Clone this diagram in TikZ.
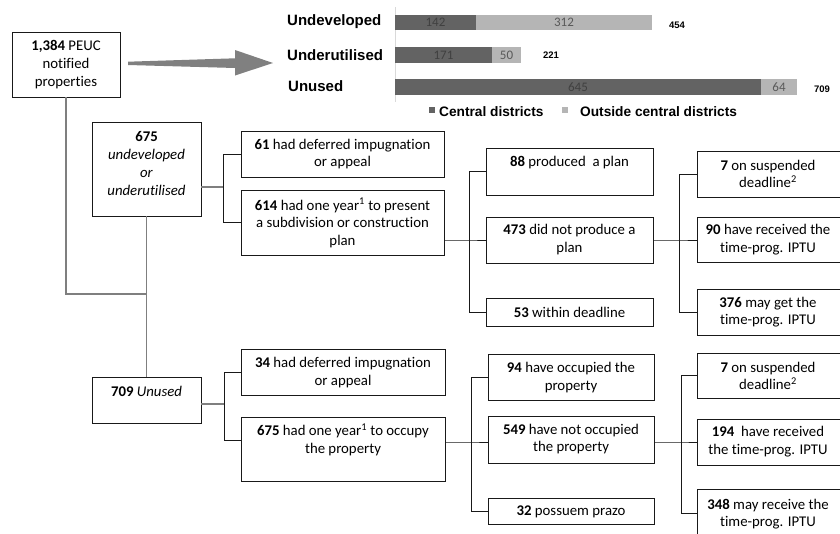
\documentclass[tikz,border=0pt]{standalone}
\usepackage{fontspec}
\setmainfont{Carlito}[Ligatures=NoCommon]
\newfontfamily\arialf{Liberation Sans}
\definecolor{darkbar}{HTML}{636363}
\definecolor{lightbar}{HTML}{B5B5B5}
\definecolor{conngray}{HTML}{7F7F7F}
\definecolor{axisgray}{HTML}{D9D9D9}
\definecolor{arrowgray}{HTML}{808080}
\newcommand\mybox[5]{\node[box, minimum width={#4-#2}, minimum height={#5-#3}] (#1) at ({(#2+#4)/2},{(#3+#5)/2}) {};}
\begin{document}
\begin{tikzpicture}[x=1pt,y=-1pt,
  box/.style={draw=black!90, line width=0.8pt, inner sep=0pt, outer sep=0pt},
  txt/.style={align=center, inner sep=0pt, font=\fontsize{14.8}{17.7}\selectfont},
  conn/.style={draw=black!90, line width=0.8pt},
  gconn/.style={draw=conngray, line width=1.5pt},
  catlbl/.style={anchor=base west, inner sep=0pt, font=\arialf\bfseries\fontsize{15}{17}\selectfont},
  leglbl/.style={anchor=base west, inner sep=0pt, font=\arialf\bfseries\fontsize{13.7}{16}\selectfont},
  barlbl/.style={inner sep=0pt, font=\fontsize{13}{15}\selectfont},
  totlbl/.style={inner sep=0pt, font=\arialf\bfseries\fontsize{9.5}{11}\selectfont}]
\useasboundingbox (0,0) rectangle (840,533);
% ---------------- chart ----------------
\fill[arrowgray] (128,61.7) -- (235,58.3) -- (235,50) -- (273,63) -- (235,75.5) -- (235,68) -- (128,65) -- cycle;
\draw[axisgray, line width=0.8pt] (395,7) -- (395,102);
\fill[darkbar] (395,15) rectangle (476,30);
\fill[lightbar] (476,15) rectangle (652,30);
\fill[darkbar] (395,47) rectangle (492,63);
\fill[lightbar] (492,47) rectangle (521,63);
\fill[darkbar] (395,79) rectangle (761,95);
\fill[lightbar] (761,79) rectangle (797,95);
\node[catlbl] (cU1) at (287,25) {Undeveloped};
\node[catlbl] (cU2) at (287,60) {Underutilised};
\node[catlbl] (cU3) at (288,91) {Unused};
\node[barlbl, text=black!75] (v142) at (435.5,22.5) {142};
\node[barlbl, text=black!65] (v312) at (564,22.5) {312};
\node[barlbl, text=black!75] (v171) at (443.5,55) {171};
\node[barlbl, text=black!65] (v50) at (506.5,55) {50};
\node[barlbl, text=black!75] (v645) at (578,87) {645};
\node[barlbl, text=black!65] (v64) at (779,87) {64};
\node[totlbl] (t454) at (677,25.5) {454};
\node[totlbl] (t221) at (551,55) {221};
\node[totlbl] (t709) at (822,89.5) {709};
\fill[darkbar] (429,107) rectangle (434.5,112.5);
\node[leglbl] (lg1) at (439,116.5) {Central districts};
\fill[lightbar] (562,107) rectangle (567.5,112.5);
\node[leglbl] (lg2) at (580,116.5) {Outside central districts};
% ---------------- boxes ----------------
\mybox{b1}{12}{32}{120}{97}
\mybox{b675}{92}{122}{201}{216}
\mybox{b709}{92}{377}{201}{423}
\mybox{b61}{241}{131}{444}{177}
\mybox{b614}{241}{190}{444}{255}
\mybox{b34}{241}{349}{445}{395}
\mybox{b675b}{241}{417}{445}{481}
\mybox{b88}{486}{148}{653}{195}
\mybox{b473}{486}{217}{653}{263}
\mybox{b53}{486}{298}{653}{326}
\mybox{b94}{488}{354}{654}{400}
\mybox{b549}{488}{416}{654}{463}
\mybox{b32}{488}{498}{654}{524}
\mybox{r7}{697}{151}{845}{197}
\mybox{r90}{697}{217}{845}{262}
\mybox{r376}{697}{289}{845}{335}
\mybox{r7b}{697}{353}{845}{398}
\mybox{r194}{697}{419}{845}{465}
\mybox{r348}{697}{489}{845}{537}
% ---------------- texts ----------------
\node[txt] (x1) at (66,64.5) {\textbf{1,384} PEUC\\notified\\properties};
\node[txt] (x675) at (146.5,163.5) {\textbf{675}\\\textit{undeveloped}\\\textit{or}\\\textit{underutilised}};
\node[txt] (x709) at (146.5,391) {\textbf{709} \textit{Unused}};
\node[txt] (x61) at (342.5,154) {\textbf{61} had deferred impugnation\\or appeal};
\node[txt] (x614) at (342.5,223) {\textbf{614} had one year\textsuperscript{1} to present\\a subdivision or construction\\plan};
\node[txt] (x34) at (343,372.5) {\textbf{34} had deferred impugnation\\or appeal};
\node[txt] (x675b) at (343,439.5) {\textbf{675} had one year\textsuperscript{1} to occupy\\the property};
\node[txt] (x88) at (569.5,163) {\textbf{88} produced\ \ a plan};
\node[txt] (x473) at (569.5,239.5) {\textbf{473} did not produce a\\plan};
\node[txt] (x53) at (569.5,312) {\textbf{53} within deadline};
\node[txt] (x94) at (571,377.5) {\textbf{94} have occupied the\\property};
\node[txt] (x549) at (571,439) {\textbf{549} have not occupied\\the property};
\node[txt] (x32) at (571,512) {\textbf{32} possuem prazo};
\node[txt] (y7) at (768,174) {\textbf{7} on suspended\\deadline\textsuperscript{2}};
\node[txt] (y90) at (768,239.5) {\textbf{90} have received the\\time-prog. IPTU};
\node[txt] (y376) at (768,312) {\textbf{376} may get the\\time-prog. IPTU};
\node[txt] (y7b) at (768,376) {\textbf{7} on suspended\\deadline\textsuperscript{2}};
\node[txt] (y194) at (768,441.5) {\textbf{194}\ \ have received\\the time-prog. IPTU};
\node[txt] (y348) at (768,514) {\textbf{348} may receive the\\time-prog. IPTU};
% ---------------- connectors ----------------
\coordinate (jm) at (146.5,294);
\coordinate (ja) at (223,187);
\coordinate (jb) at (469,240);
\coordinate (jc) at (679,240);
\coordinate (jd) at (224,404);
\coordinate (jd2) at (224,440);
\coordinate (je) at (471,442);
\coordinate (jf) at (681,442);
\draw[gconn] (b1.south) |- (jm);
\draw[gconn] (b675.south) -- (b709.north);
\draw[gconn] (b675.east |- ja) -- (ja);
\draw[conn] (b61.west) -- (b61.west -| ja) -- (b614.west -| ja) -- (b614.west);
\draw[conn] (b614.east |- jb) -- (jb) -- (jb -| b473.west);
\draw[conn] (b88.west) -- (b88.west -| jb) -- (b53.west -| jb) -- (b53.west);
\draw[conn] (b473.east |- jc) -- (jc) -- (jc -| r90.west);
\draw[conn] (r7.west) -- (r7.west -| jc) -- (r376.west -| jc) -- (r376.west);
\draw[gconn] (b709.east |- jd) -- (jd);
\draw[conn] (b34.west) -- (b34.west -| jd) -- (jd2) -- (jd2 -| b675b.west);
\draw[conn] (b675b.east |- je) -- (je) -- (je -| b549.west);
\draw[conn] (b94.west) -- (b94.west -| je) -- (b32.west -| je) -- (b32.west);
\draw[conn] (b549.east |- jf) -- (jf) -- (jf -| r194.west);
\draw[conn] (r7b.west) -- (r7b.west -| jf) -- (r348.west -| jf) -- (r348.west);
\end{tikzpicture}
\end{document}
